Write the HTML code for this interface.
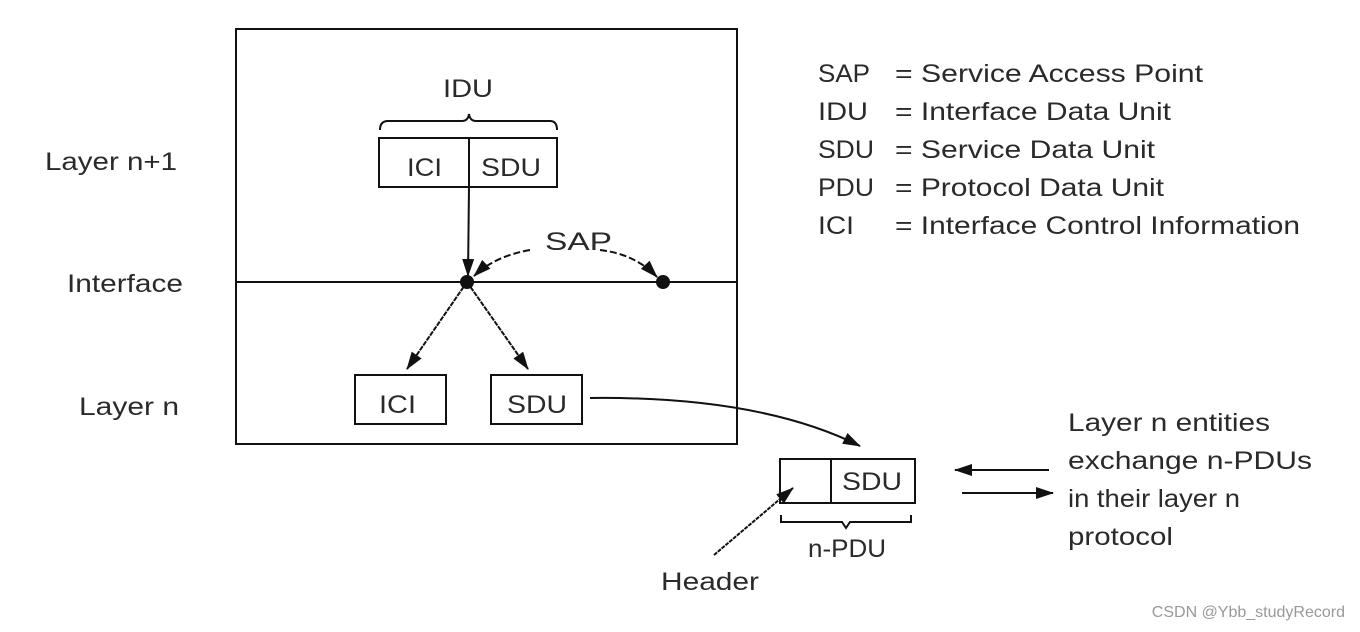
<!DOCTYPE html>
<html><head><meta charset="utf-8"><style>
html,body{margin:0;padding:0;background:#fff;}
svg{display:block;}
text{font-family:"Liberation Sans",Arial,sans-serif;fill:#2a2a2a;font-size:25px;}
</style></head><body>
<svg width="1360" height="632" viewBox="0 0 1360 632" xmlns="http://www.w3.org/2000/svg">
<defs>
<marker id="b" markerWidth="18" markerHeight="12" refX="17" refY="6" orient="auto" markerUnits="userSpaceOnUse" viewBox="0 0 18 12"><path d="M0,0 L18,6 L0,12 z" fill="#111"/></marker>
</defs>
<g stroke="#111" stroke-width="2" fill="none">
<rect x="236" y="29" width="501" height="415"/>
<line x1="236" y1="282" x2="737" y2="282"/>
<path d="M380,130 Q380,121 388,121 L462,121 Q468,121 469,114 Q470,121 476,121 L550,121 Q557,121 557,130"/>
<rect x="379" y="138" width="178" height="49"/>
<line x1="469" y1="138" x2="469" y2="187"/>
<line x1="469" y1="187" x2="468" y2="276" marker-end="url(#b)"/>
<path d="M530,250 Q495,256 474,276" stroke-dasharray="7,3" marker-end="url(#b)"/>
<path d="M600,250 Q635,254 657,277" stroke-dasharray="7,3" marker-end="url(#b)"/>
<line x1="467" y1="282" x2="407" y2="369" stroke-dasharray="5,1" marker-end="url(#b)"/>
<line x1="467" y1="282" x2="528" y2="369" stroke-dasharray="5,1" marker-end="url(#b)"/>
<rect x="355" y="375" width="91" height="49"/>
<rect x="491" y="375" width="91" height="49"/>
<path d="M590,398 Q760,396 860,446" marker-end="url(#b)"/>
<rect x="780" y="459" width="135" height="44"/>
<line x1="831" y1="459" x2="831" y2="503"/>
<path d="M781,515 L781,522 L842,522 L846,528 L850,522 L911,522 L911,515"/>
<line x1="714" y1="555" x2="793" y2="488" stroke-dasharray="4,1" marker-end="url(#b)"/>
<line x1="1049" y1="470" x2="955" y2="470" marker-end="url(#b)"/>
<line x1="962" y1="493" x2="1053" y2="493" marker-end="url(#b)"/>
</g>
<circle cx="467" cy="282" r="7" fill="#111"/>
<circle cx="663" cy="282" r="7" fill="#111"/>
<g lengthAdjust="spacingAndGlyphs">
<text x="443" y="97" textLength="50" lengthAdjust="spacingAndGlyphs">IDU</text>
<text x="407" y="176" textLength="35" lengthAdjust="spacingAndGlyphs">ICI</text>
<text x="481" y="176" textLength="60" lengthAdjust="spacingAndGlyphs">SDU</text>
<text x="545" y="250" textLength="67" lengthAdjust="spacingAndGlyphs">SAP</text>
<text x="379" y="413" textLength="37" lengthAdjust="spacingAndGlyphs">ICI</text>
<text x="507" y="413" textLength="60" lengthAdjust="spacingAndGlyphs">SDU</text>
<text x="842" y="490" textLength="60" lengthAdjust="spacingAndGlyphs">SDU</text>
<text x="808" y="557" textLength="78" lengthAdjust="spacingAndGlyphs">n-PDU</text>
<text x="661" y="590" textLength="98" lengthAdjust="spacingAndGlyphs">Header</text>
<text x="45" y="170" textLength="132" lengthAdjust="spacingAndGlyphs">Layer n+1</text>
<text x="67" y="292" textLength="116" lengthAdjust="spacingAndGlyphs">Interface</text>
<text x="79" y="415" textLength="100" lengthAdjust="spacingAndGlyphs">Layer n</text>
<text x="1068" y="431" textLength="202" lengthAdjust="spacingAndGlyphs">Layer n entities</text>
<text x="1068" y="469" textLength="244" lengthAdjust="spacingAndGlyphs">exchange n-PDUs</text>
<text x="1068" y="507" textLength="172" lengthAdjust="spacingAndGlyphs">in their layer n</text>
<text x="1068" y="545" textLength="105" lengthAdjust="spacingAndGlyphs">protocol</text>
<text x="818" y="82" textLength="52" lengthAdjust="spacingAndGlyphs">SAP</text><text x="895" y="82" textLength="308" lengthAdjust="spacingAndGlyphs">= Service Access Point</text>
<text x="818" y="120" textLength="50" lengthAdjust="spacingAndGlyphs">IDU</text><text x="895" y="120" textLength="276" lengthAdjust="spacingAndGlyphs">= Interface Data Unit</text>
<text x="818" y="158" textLength="56" lengthAdjust="spacingAndGlyphs">SDU</text><text x="895" y="158" textLength="260" lengthAdjust="spacingAndGlyphs">= Service Data Unit</text>
<text x="818" y="196" textLength="56" lengthAdjust="spacingAndGlyphs">PDU</text><text x="895" y="196" textLength="269" lengthAdjust="spacingAndGlyphs">= Protocol Data Unit</text>
<text x="818" y="234" textLength="36" lengthAdjust="spacingAndGlyphs">ICI</text><text x="895" y="234" textLength="405" lengthAdjust="spacingAndGlyphs">= Interface Control Information</text>
</g>
<text x="1345" y="617" text-anchor="end" style="font-size:16px;fill:#999">CSDN @Ybb_studyRecord</text>
</svg>
</body></html>
